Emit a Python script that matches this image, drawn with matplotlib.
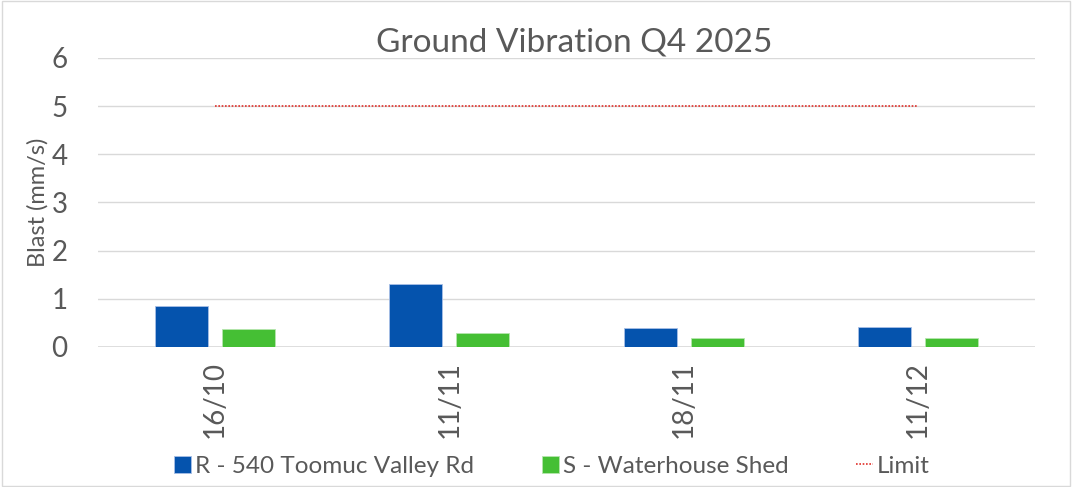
import matplotlib.pyplot as plt
import numpy as np
from matplotlib.patches import Rectangle

plt.rcParams['font.family'] = ['Lato', 'DejaVu Sans']

dates = ["16/10", "11/11", "18/11", "11/12"]
site_r = [0.85, 1.30, 0.40, 0.41]
site_s = [0.38, 0.30, 0.18, 0.18]
limit = [5, 5, 5, 5]

text_col = "#595959"
blue = "#0553ad"
green = "#45bf34"

fig = plt.figure(figsize=(10.72, 4.87), dpi=100)
ax = fig.add_axes([0.0914, 0.2875, 0.8741, 0.5935])

x = np.arange(len(dates))
w = 0.226
off = 0.143
ax.bar(x - off, site_r, w, color=blue, edgecolor="#a8bfe6", linewidth=0.6,
       label="R - 540 Toomuc Valley Rd", zorder=3)
ax.bar(x + off, site_s, w, color=green, edgecolor="#b6e6ae", linewidth=0.6,
       label="S - Waterhouse Shed", zorder=3)
ax.plot(x, limit, color="#e0302a", linestyle=(0, (1, 1)), linewidth=1.2,
        label="Limit", zorder=3)

ax.set_xlim(-0.5, len(dates) - 0.5)
ax.set_ylim(0, 6)
ax.set_yticks(range(0, 7))
ax.yaxis.grid(True, color="#d9d9d9", linewidth=1)
ax.set_axisbelow(True)
for s in ax.spines.values():
    s.set_visible(False)
ax.axhline(0, color="#d9d9d9", linewidth=1.2, zorder=2)

ax.set_xticks(x)
ax.set_xticklabels(dates, rotation=90)
ax.tick_params(axis="both", length=0, labelsize=20, colors=text_col, pad=10)
ax.tick_params(axis="y", pad=22)

ax.set_ylabel("Blast (mm/s)", fontsize=17, color=text_col, labelpad=2)
fig.text(0.536, 0.913, "Ground Vibration Q4 2025", fontsize=24, color=text_col,
         ha="center", va="center")

handles, labels = ax.get_legend_handles_labels()
order = [1, 2, 0]
leg = fig.legend([handles[i] for i in order], [labels[i] for i in order],
                 loc="center", bbox_to_anchor=(0.515, 0.043), ncol=3, frameon=False,
                 fontsize=17.5, handlelength=0.7, handleheight=0.7, handletextpad=0.15,
                 columnspacing=2.8, labelcolor=text_col)

fig.patches.append(Rectangle((0.002, 0.003), 0.996, 0.994, transform=fig.transFigure,
                             fill=False, edgecolor="#d9d9d9", linewidth=1))

fig.savefig("out.png", dpi=100)
